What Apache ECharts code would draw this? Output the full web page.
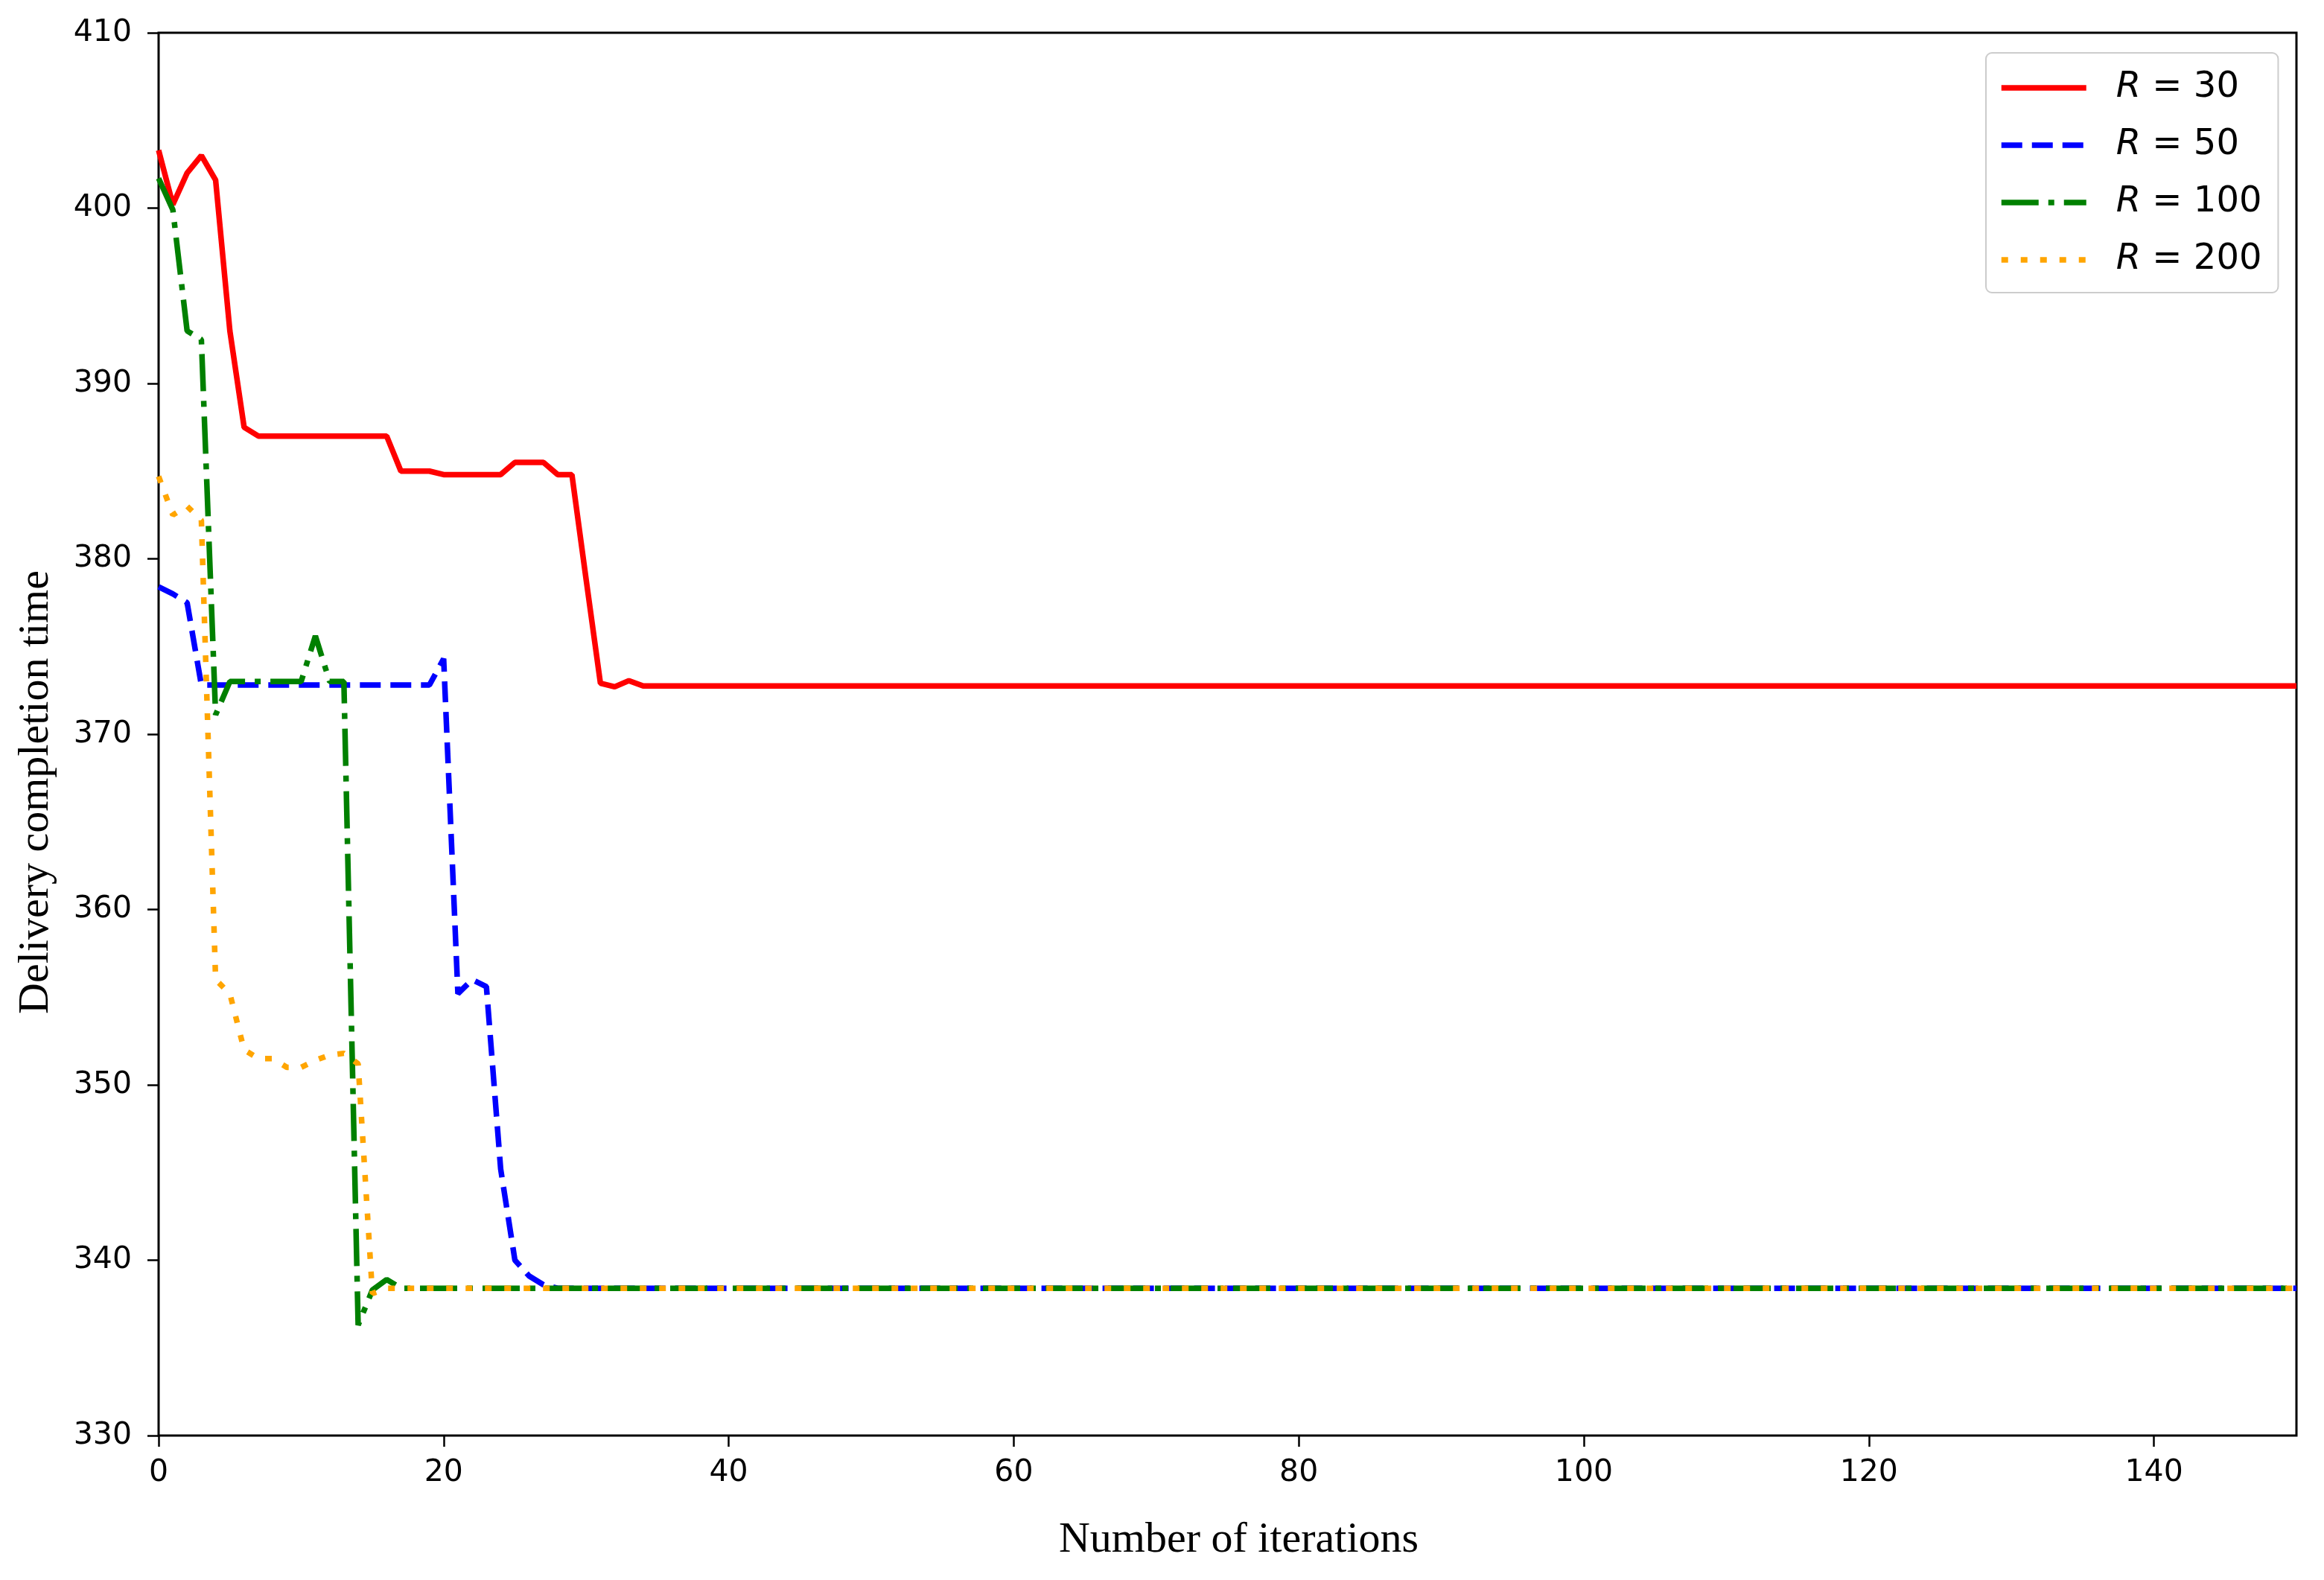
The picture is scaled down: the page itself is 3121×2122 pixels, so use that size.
<!DOCTYPE html>
<html>
<head>
<meta charset="utf-8">
<script src="https://cdn.jsdelivr.net/npm/echarts@6/dist/echarts.min.js"></script>
<style>
html,body{margin:0;padding:0;background:#fff;}
#chart{width:3121px;height:2122px;}
</style>
</head>
<body>
<div id="chart"></div>
<script>
// ---- data ----
const seriesNames = ['R = 30', 'R = 50', 'R = 100', 'R = 200'];

const r30Iter = [0,1,2,3,4,5,6,7,8,9,10,11,12,13,14,15,16,17,18,19,20,21,22,23,24,25,26,27,28,29,30,31,32,33,34,150];
const r30Val  = [403.3,400.2,402.0,403.0,401.6,393.0,387.5,387.0,387.0,387.0,387.0,387.0,387.0,387.0,387.0,387.0,387.0,385.0,385.0,385.0,384.8,384.8,384.8,384.8,384.8,385.5,385.5,385.5,384.8,384.8,378.8,372.9,372.7,373.05,372.75,372.75];

const r50Iter = [0,1,2,3,4,5,6,7,8,9,10,11,12,13,14,15,16,17,18,19,20,21,22,23,24,25,26,27,28,150];
const r50Val  = [378.4,378.0,377.5,372.8,372.8,372.8,372.8,372.8,372.8,372.8,372.8,372.8,372.8,372.8,372.8,372.8,372.8,372.8,372.8,372.8,374.3,355.2,356.0,355.6,345.2,340.0,339.1,338.6,338.4,338.4];

const r100Iter = [0,1,2,3,4,5,6,7,8,9,10,11,12,13,14,15,16,17,150];
const r100Val  = [401.7,399.9,393.0,392.5,371.1,373.0,373.0,373.0,373.0,373.0,373.0,375.6,373.0,373.0,336.3,338.3,338.9,338.4,338.4];

const r200Iter = [0,1,2,3,4,5,6,7,8,9,10,11,12,13,14,15,16,150];
const r200Val  = [384.7,382.5,383.0,382.2,356.0,355.2,352.0,351.5,351.5,351.0,351.0,351.4,351.7,351.8,351.2,338.1,338.4,338.4];

const xTicks = [0,20,40,60,80,100,120,140];
const yTicks = [330,340,350,360,370,380,390,400,410];

// ---- build ----
function pairs(xs, ys){ return xs.map((x,i)=>[x, ys[i]]); }

const chart = echarts.init(document.getElementById('chart'), null, {renderer:'canvas'});
const LW = 7.5;
const tickFont = {fontFamily:'DejaVu Sans', fontSize:41, color:'#000'};

chart.setOption({
  animation:false,
  backgroundColor:'#fff',
  grid:{left:213, right:37, top:44, bottom:194, show:true, borderColor:'#000', borderWidth:3, backgroundColor:'transparent'},
  xAxis:{
    type:'value', min:0, max:150,
    name:'Number of iterations', nameLocation:'middle', nameGap:112,
    nameTextStyle:{fontFamily:'Liberation Serif', fontSize:58, color:'#000', padding:[0,0,0,30]},
    axisLine:{show:false},
    axisTick:{show:true, inside:false, length:15, lineStyle:{color:'#000', width:2.5}, customValues:xTicks},
    axisLabel:Object.assign({margin:30, customValues:xTicks}, tickFont),
    splitLine:{show:false}
  },
  yAxis:{
    type:'value', min:yTicks[0], max:yTicks[yTicks.length-1], interval:10,
    name:'Delivery completion time', nameLocation:'middle', nameGap:135,
    nameTextStyle:{fontFamily:'Liberation Serif', fontSize:58, color:'#000', padding:[0,156,0,0]},
    axisLine:{show:false},
    axisTick:{show:true, inside:false, length:15, lineStyle:{color:'#000', width:2.5}},
    axisLabel:Object.assign({margin:36}, tickFont),
    splitLine:{show:false}
  },
  legend:{
    orient:'vertical', align:'left',
    left:2667, top:71,
    itemWidth:114, itemHeight:48, itemGap:29,
    padding:[23,22,20,17],
    backgroundColor:'rgba(255,255,255,0.8)',
    borderColor:'#cccccc', borderWidth:2, borderRadius:8,
    data:seriesNames,
    itemStyle:{color:'transparent', borderWidth:0, opacity:0},
    lineStyle:{width:LW},
    formatter:function(name){ return name.replace('R', '{i|R}'); },
    textStyle:{fontFamily:'DejaVu Sans', fontSize:48, color:'#000', padding:[0,0,0,35],
      rich:{i:{fontFamily:'DejaVu Sans', fontSize:48, fontStyle:'italic', color:'#000'}}}
  },
  series:[
    {name:seriesNames[0], type:'line', data:pairs(r30Iter,r30Val), symbol:'none',
      lineStyle:{color:'#ff0000', width:LW, type:'solid'}, itemStyle:{color:'#ff0000'}},
    {name:seriesNames[1], type:'line', data:pairs(r50Iter,r50Val), symbol:'none',
      lineStyle:{color:'#0000ff', width:LW, type:[28,13]}, itemStyle:{color:'#0000ff'}},
    {name:seriesNames[2], type:'line', data:pairs(r100Iter,r100Val), symbol:'none',
      lineStyle:{color:'#008000', width:LW, type:[50,13,8,13]}, itemStyle:{color:'#008000'}},
    {name:seriesNames[3], type:'line', data:pairs(r200Iter,r200Val), symbol:'none',
      lineStyle:{color:'#ffa500', width:LW, type:[9,17]}, itemStyle:{color:'#ffa500'}}
  ]
});
</script>
</body>
</html>
